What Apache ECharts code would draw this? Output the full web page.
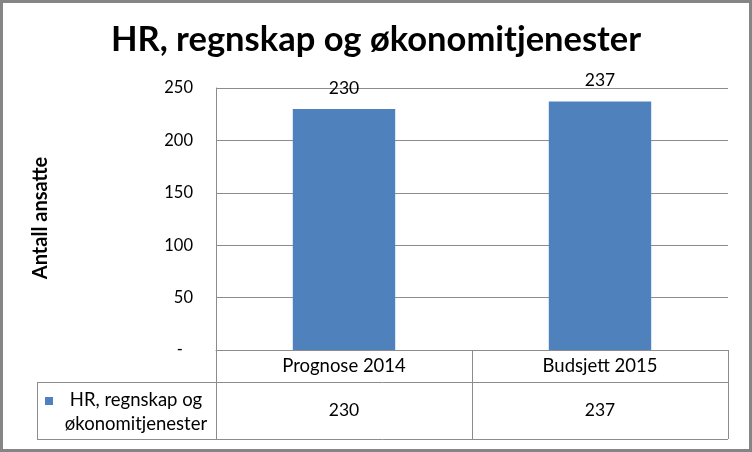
<!DOCTYPE html>
<html><head><meta charset="utf-8">
<script src="https://cdn.jsdelivr.net/npm/echarts@6/dist/echarts.min.js"></script>
<style>html,body{margin:0;padding:0;background:#fff}#c{width:752px;height:452px}</style>
</head><body><div id="c"></div>
<script>
const titleText = 'HR, regnskap og økonomitjenester';
const yAxisName = 'Antall ansatte';
const seriesName = 'HR, regnskap og økonomitjenester';
const categories = ['Prognose 2014', 'Budsjett 2015'];
const values = [230, 237];
const yTicks = [0, 50, 100, 150, 200, 250];

const FONT = 'Lato';
const GRID = '#8c8c8c';
const chart = echarts.init(document.getElementById('c'), null, {renderer: 'canvas'});
chart.setOption({
  animation: false,
  backgroundColor: '#fff',
  textStyle: {fontFamily: FONT},
  title: {
    text: titleText, left: 'center', top: 17,
    textStyle: {fontFamily: FONT, fontSize: 34.5, fontWeight: 'bold', color: '#000'}
  },
  grid: {left: 216, right: 24, top: 88, bottom: 102},
  xAxis: [{
    type: 'category', data: categories, position: 'bottom',
    axisLine: {show: true, lineStyle: {color: GRID, width: 1}},
    axisTick: {show: true, interval: 0, alignWithLabel: false, length: 89, lineStyle: {color: GRID}},
    axisLabel: {fontFamily: FONT, fontSize: 18.5, color: '#000', margin: 7, interval: 0},
    splitLine: {show: false}
  }, {
    type: 'category', data: values.map(String), position: 'bottom',
    axisLine: {show: false}, axisTick: {show: false},
    axisLabel: {fontFamily: FONT, fontSize: 17.5, color: '#000', margin: 51, interval: 0},
    splitLine: {show: false}
  }],
  yAxis: {
    type: 'value', min: yTicks[0], max: yTicks[yTicks.length - 1], interval: 50,
    axisLine: {show: true, lineStyle: {color: GRID}},
    axisTick: {show: false},
    axisLabel: {
      fontFamily: FONT, fontSize: 16.5, color: '#000', margin: 23,
      formatter: v => v === 0 ? '{d|-}' : String(v),
      rich: {d: {fontFamily: FONT, fontSize: 16.5, color: '#000', padding: [0, 10, 0, 0]}}
    },
    splitLine: {show: true, lineStyle: {color: GRID, width: 1}}
  },
  series: [{
    name: seriesName, type: 'bar', data: values, barWidth: '40%', xAxisIndex: 0,
    itemStyle: {color: '#4F81BD'},
    label: {show: true, position: 'top', distance: 12, fontFamily: FONT, fontSize: 17.5, color: '#000'}
  }],
  graphic: [
    {type: 'rect', shape: {x: 1.5, y: 1.5, width: 749, height: 449}, style: {fill: 'none', stroke: '#858585', lineWidth: 3}, silent: true},
    {type: 'text', x: 41, y: 218, rotation: Math.PI / 2, style: {text: yAxisName, fontFamily: FONT, fontSize: 20, fontWeight: 'bold', fill: '#000', textAlign: 'center', textVerticalAlign: 'middle'}},
    {type: 'line', shape: {x1: 37, y1: 382.5, x2: 728, y2: 382.5}, style: {stroke: GRID, lineWidth: 1}},
    {type: 'line', shape: {x1: 37, y1: 439.5, x2: 728, y2: 439.5}, style: {stroke: GRID, lineWidth: 1}},
    {type: 'line', shape: {x1: 37.5, y1: 382, x2: 37.5, y2: 440}, style: {stroke: GRID, lineWidth: 1}},
    {type: 'rect', shape: {x: 45, y: 397, width: 8, height: 8}, style: {fill: '#4F81BD'}},
    {type: 'text', x: 136, y: 400, style: {text: 'HR, regnskap og', fontFamily: FONT, fontSize: 18.5, fill: '#000', textAlign: 'center', textVerticalAlign: 'middle'}},
    {type: 'text', x: 136, y: 424, style: {text: 'økonomitjenester', fontFamily: FONT, fontSize: 18.5, fill: '#000', textAlign: 'center', textVerticalAlign: 'middle'}}
  ]
});
</script></body></html>
